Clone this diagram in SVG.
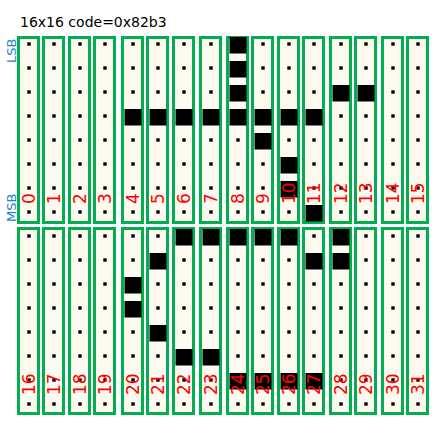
<svg xmlns="http://www.w3.org/2000/svg" xmlns:xlink="http://www.w3.org/1999/xlink" width="437" height="434" viewBox="0 0 437 434">
<style>
.box{fill:#fffaf0;stroke:#00b050;stroke-width:3}
.blk{fill:#000}
.lbl{fill:#ff0000;font-family:"DejaVu Sans",sans-serif;font-size:17px}
.side{fill:#1f7fd0;font-family:"DejaVu Sans",sans-serif;font-size:13px}
.title{fill:#000;font-family:"DejaVu Sans",sans-serif;font-size:14px}
</style>
<defs>
<g id="dots">
<rect x="-1.7" y="-1.7" width="3.4" height="3.4"/>
<rect x="-1.7" y="22.3" width="3.4" height="3.4"/>
<rect x="-1.7" y="46.3" width="3.4" height="3.4"/>
<rect x="-1.7" y="70.3" width="3.4" height="3.4"/>
<rect x="-1.7" y="94.3" width="3.4" height="3.4"/>
<rect x="-1.7" y="118.3" width="3.4" height="3.4"/>
<rect x="-1.7" y="142.3" width="3.4" height="3.4"/>
<rect x="-1.7" y="166.3" width="3.4" height="3.4"/>
</g>
<rect id="tb" class="box" x="0" y="37.5" width="20" height="185"/>
<rect id="bb" class="box" x="0" y="228.5" width="20" height="185"/>
</defs>
<rect width="437" height="434" fill="#fff"/>
<text class="title" x="20" y="26.7">16x16 code=0x82b3</text>
<text class="side" transform="translate(15.5,63) rotate(-90)">LSB</text>
<text class="side" transform="translate(15.5,222) rotate(-90)">MSB</text>

<g id="col0"><use xlink:href="#tb" x="18.5"/><use xlink:href="#dots" x="29" y="44"/><text class="lbl" transform="translate(35,204) rotate(-90)">0</text></g>
<g id="col1"><use xlink:href="#tb" x="43.5"/><use xlink:href="#dots" x="54" y="44"/><text class="lbl" transform="translate(60,204) rotate(-90)">1</text></g>
<g id="col2"><use xlink:href="#tb" x="69.5"/><use xlink:href="#dots" x="80" y="44"/><text class="lbl" transform="translate(86,204) rotate(-90)">2</text></g>
<g id="col3"><use xlink:href="#tb" x="94.5"/><use xlink:href="#dots" x="105" y="44"/><text class="lbl" transform="translate(111,204) rotate(-90)">3</text></g>
<g id="col4"><use xlink:href="#tb" x="122.5"/><use xlink:href="#dots" x="133" y="44"/><rect class="blk" x="124.5" y="109" width="17" height="16.5"/><text class="lbl" transform="translate(139,204) rotate(-90)">4</text></g>
<g id="col5"><use xlink:href="#tb" x="147.5"/><use xlink:href="#dots" x="158" y="44"/><rect class="blk" x="149.5" y="109" width="17" height="16.5"/><text class="lbl" transform="translate(164,204) rotate(-90)">5</text></g>
<g id="col6"><use xlink:href="#tb" x="173.5"/><use xlink:href="#dots" x="184" y="44"/><rect class="blk" x="175.5" y="109" width="17" height="16.5"/><text class="lbl" transform="translate(190,204) rotate(-90)">6</text></g>
<g id="col7"><use xlink:href="#tb" x="200.5"/><use xlink:href="#dots" x="211" y="44"/><rect class="blk" x="202.5" y="109" width="17" height="16.5"/><text class="lbl" transform="translate(217,204) rotate(-90)">7</text></g>
<g id="col8"><use xlink:href="#tb" x="227.5"/><use xlink:href="#dots" x="238" y="44"/><rect class="blk" x="229.5" y="37" width="17" height="16.5"/><rect class="blk" x="229.5" y="61" width="17" height="16.5"/><rect class="blk" x="229.5" y="85" width="17" height="16.5"/><rect class="blk" x="229.5" y="109" width="17" height="16.5"/><text class="lbl" transform="translate(244,204) rotate(-90)">8</text></g>
<g id="col9"><use xlink:href="#tb" x="252.5"/><use xlink:href="#dots" x="263" y="44"/><rect class="blk" x="254.5" y="109" width="17" height="16.5"/><rect class="blk" x="254.5" y="133" width="17" height="16.5"/><text class="lbl" transform="translate(269,204) rotate(-90)">9</text></g>
<g id="col10"><use xlink:href="#tb" x="278.5"/><use xlink:href="#dots" x="289" y="44"/><rect class="blk" x="280.5" y="109" width="17" height="16.5"/><rect class="blk" x="280.5" y="157" width="17" height="16.5"/><rect class="blk" x="280.5" y="181" width="17" height="16.5"/><text class="lbl" transform="translate(295,204) rotate(-90)">10</text></g>
<g id="col11"><use xlink:href="#tb" x="303.5"/><use xlink:href="#dots" x="314" y="44"/><rect class="blk" x="305.5" y="109" width="17" height="16.5"/><rect class="blk" x="305.5" y="205" width="17" height="16.5"/><text class="lbl" transform="translate(320,204) rotate(-90)">11</text></g>
<g id="col12"><use xlink:href="#tb" x="330.5"/><use xlink:href="#dots" x="341" y="44"/><rect class="blk" x="332.5" y="85" width="17" height="16.5"/><text class="lbl" transform="translate(347,204) rotate(-90)">12</text></g>
<g id="col13"><use xlink:href="#tb" x="355.5"/><use xlink:href="#dots" x="366" y="44"/><rect class="blk" x="357.5" y="85" width="17" height="16.5"/><text class="lbl" transform="translate(372,204) rotate(-90)">13</text></g>
<g id="col14"><use xlink:href="#tb" x="382.5"/><use xlink:href="#dots" x="393" y="44"/><text class="lbl" transform="translate(399,204) rotate(-90)">14</text></g>
<g id="col15"><use xlink:href="#tb" x="407.5"/><use xlink:href="#dots" x="418" y="44"/><text class="lbl" transform="translate(424,204) rotate(-90)">15</text></g>

<g id="col16"><use xlink:href="#bb" x="18.5"/><use xlink:href="#dots" x="29" y="236"/><text class="lbl" transform="translate(35,395) rotate(-90)">16</text></g>
<g id="col17"><use xlink:href="#bb" x="43.5"/><use xlink:href="#dots" x="54" y="236"/><text class="lbl" transform="translate(60,395) rotate(-90)">17</text></g>
<g id="col18"><use xlink:href="#bb" x="69.5"/><use xlink:href="#dots" x="80" y="236"/><text class="lbl" transform="translate(86,395) rotate(-90)">18</text></g>
<g id="col19"><use xlink:href="#bb" x="94.5"/><use xlink:href="#dots" x="105" y="236"/><text class="lbl" transform="translate(111,395) rotate(-90)">19</text></g>
<g id="col20"><use xlink:href="#bb" x="122.5"/><use xlink:href="#dots" x="133" y="236"/><rect class="blk" x="124.5" y="277" width="17" height="16.5"/><rect class="blk" x="124.5" y="301" width="17" height="16.5"/><text class="lbl" transform="translate(139,395) rotate(-90)">20</text></g>
<g id="col21"><use xlink:href="#bb" x="147.5"/><use xlink:href="#dots" x="158" y="236"/><rect class="blk" x="149.5" y="253" width="17" height="16.5"/><rect class="blk" x="149.5" y="325" width="17" height="16.5"/><text class="lbl" transform="translate(164,395) rotate(-90)">21</text></g>
<g id="col22"><use xlink:href="#bb" x="173.5"/><use xlink:href="#dots" x="184" y="236"/><rect class="blk" x="175.5" y="229" width="17" height="16.5"/><rect class="blk" x="175.5" y="349" width="17" height="16.5"/><text class="lbl" transform="translate(190,395) rotate(-90)">22</text></g>
<g id="col23"><use xlink:href="#bb" x="200.5"/><use xlink:href="#dots" x="211" y="236"/><rect class="blk" x="202.5" y="229" width="17" height="16.5"/><rect class="blk" x="202.5" y="349" width="17" height="16.5"/><text class="lbl" transform="translate(217,395) rotate(-90)">23</text></g>
<g id="col24"><use xlink:href="#bb" x="227.5"/><use xlink:href="#dots" x="238" y="236"/><rect class="blk" x="229.5" y="229" width="17" height="16.5"/><rect class="blk" x="229.5" y="373" width="17" height="16.5"/><text class="lbl" transform="translate(244,395) rotate(-90)">24</text></g>
<g id="col25"><use xlink:href="#bb" x="252.5"/><use xlink:href="#dots" x="263" y="236"/><rect class="blk" x="254.5" y="229" width="17" height="16.5"/><rect class="blk" x="254.5" y="373" width="17" height="16.5"/><text class="lbl" transform="translate(269,395) rotate(-90)">25</text></g>
<g id="col26"><use xlink:href="#bb" x="278.5"/><use xlink:href="#dots" x="289" y="236"/><rect class="blk" x="280.5" y="229" width="17" height="16.5"/><rect class="blk" x="280.5" y="373" width="17" height="16.5"/><text class="lbl" transform="translate(295,395) rotate(-90)">26</text></g>
<g id="col27"><use xlink:href="#bb" x="303.5"/><use xlink:href="#dots" x="314" y="236"/><rect class="blk" x="305.5" y="253" width="17" height="16.5"/><rect class="blk" x="305.5" y="373" width="17" height="16.5"/><text class="lbl" transform="translate(320,395) rotate(-90)">27</text></g>
<g id="col28"><use xlink:href="#bb" x="330.5"/><use xlink:href="#dots" x="341" y="236"/><rect class="blk" x="332.5" y="229" width="17" height="16.5"/><rect class="blk" x="332.5" y="253" width="17" height="16.5"/><text class="lbl" transform="translate(347,395) rotate(-90)">28</text></g>
<g id="col29"><use xlink:href="#bb" x="355.5"/><use xlink:href="#dots" x="366" y="236"/><text class="lbl" transform="translate(372,395) rotate(-90)">29</text></g>
<g id="col30"><use xlink:href="#bb" x="382.5"/><use xlink:href="#dots" x="393" y="236"/><text class="lbl" transform="translate(399,395) rotate(-90)">30</text></g>
<g id="col31"><use xlink:href="#bb" x="407.5"/><use xlink:href="#dots" x="418" y="236"/><text class="lbl" transform="translate(424,395) rotate(-90)">31</text></g>
</svg>
